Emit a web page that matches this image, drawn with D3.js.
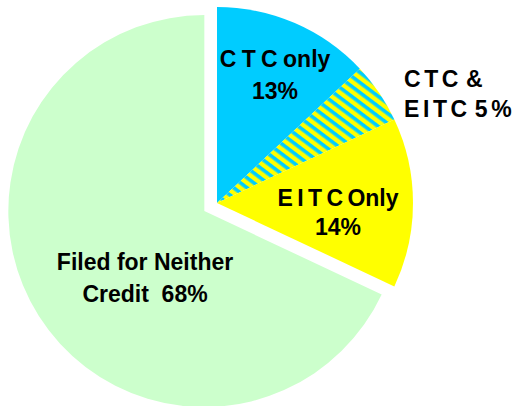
<!DOCTYPE html>
<html>
<head>
<meta charset="utf-8">
<script src="https://cdn.jsdelivr.net/npm/d3@7"></script>
<style>
    body { margin: 0; background: #fff; }
    svg { display: block; }
    .lbl { font-family: "Liberation Sans", Arial, sans-serif; font-weight: bold; font-size: 23px; fill: #000; }
</style>
</head>
<body>
<svg id="chart" width="516" height="406"></svg>
<script>
// chart values
let categories = ["CTC only", "CTC & EITC", "EITC Only", "Filed for Neither Credit"];
let shares = [13, 5, 14, 68];
let labelLines = [
    ["C T C only", "13%"],
    ["CTC &", "EITC 5%"],
    ["E I T C Only", "14%"],
    ["Filed for Neither", "Credit  68%"]
];

let width = 516;
let height = 406;
let cx = 217, cy = 203;
let radius = 196;
let explode = [0, 0, 0, 15];
let fills = ["#00CCFF", "url(#stripes)", "#FFFF00", "#CCFFCC"];

let svg = d3.select("#chart");

// yellow / cyan diagonal hatching for the overlap slice
let pattern = svg.append("defs").append("pattern")
    .attr("id", "stripes")
    .attr("patternUnits", "userSpaceOnUse")
    .attr("width", 8)
    .attr("height", 8)
    .attr("patternTransform", "rotate(37)");
pattern.append("rect").attr("width", 8).attr("height", 8).attr("fill", "#FFFF00");
pattern.append("rect").attr("width", 8).attr("height", 3.6).attr("fill", "#00CCFF");

let pie = d3.pie().sort(null).value(d => d);
let arcs = pie(shares);
let arc = d3.arc().innerRadius(0).outerRadius(radius);

function offset(d, i){
    let mid = (d.startAngle + d.endAngle) / 2;
    return [Math.sin(mid) * explode[i], -Math.cos(mid) * explode[i]];
}

let g = svg.append("g").attr("transform", "translate(" + cx + "," + cy + ")");

g.selectAll("path")
    .data(arcs)
    .enter()
    .append("path")
    .attr("d", arc)
    .attr("fill", (d, i) => fills[i])
    .attr("transform", (d, i) => {
        let o = offset(d, i);
        return "translate(" + o[0] + "," + o[1] + ")";
    });

// label anchors, relative to the pie centre
let labelPos = [
    {x: 58, y: -136, anchor: "middle", dy: 32, ws: -1, ls: 0},
    {x: 187, y: -116, anchor: "start", dy: 30, ws: -6, ls: 3.6},
    {x: 121, y: 3, anchor: "middle", dy: 29, ws: -2, ls: 0},
    {x: -72, y: 67, anchor: "middle", dy: 32, ws: 0, ls: 0}
];

labelLines.forEach((lines, i) => {
    let p = labelPos[i];
    let t = g.append("text")
        .attr("class", "lbl")
        .attr("text-anchor", p.anchor)
        .attr("x", p.x)
        .attr("y", p.y)
        .style("word-spacing", p.ws + "px")
        .style("letter-spacing", p.ls + "px");
    lines.forEach((line, j) => {
        t.append("tspan")
            .attr("x", p.x)
            .attr("dy", j === 0 ? 0 : p.dy)
            .style("white-space", "pre")
            .text(line);
    });
});
</script>
</body>
</html>
